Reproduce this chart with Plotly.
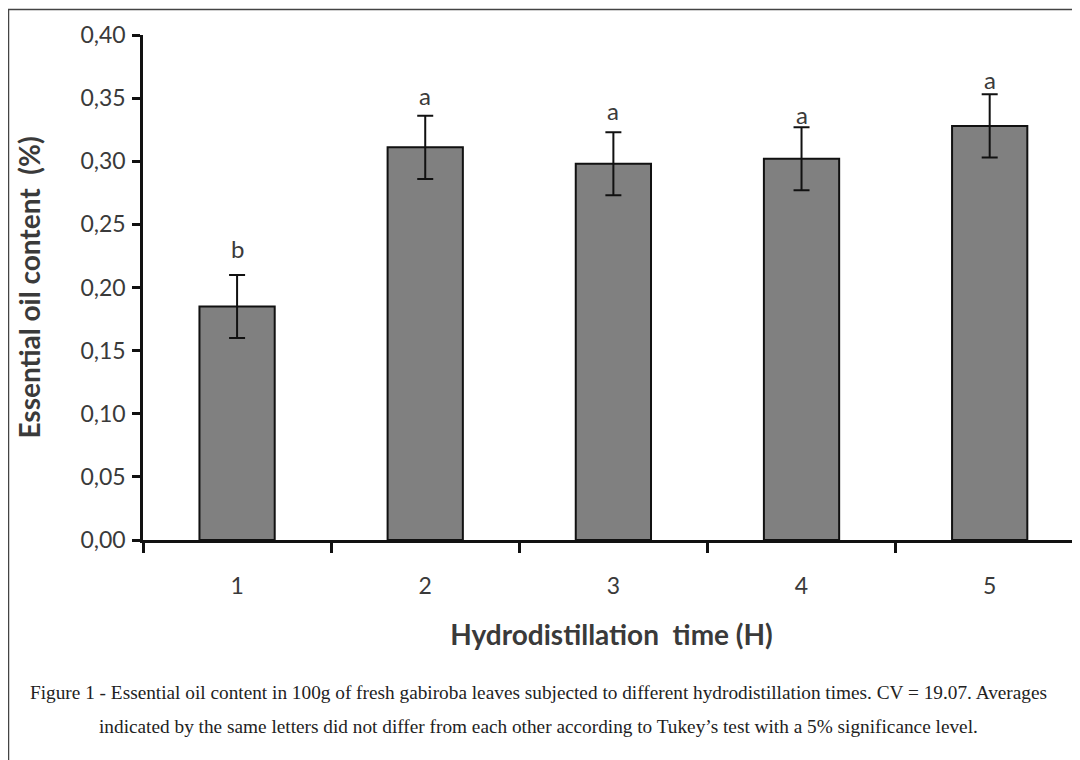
import plotly.graph_objects as go

# ---- data ----
categories = ["1", "2", "3", "4", "5"]
oil_content = [0.185, 0.311, 0.298, 0.302, 0.328]
error_sd = [0.025, 0.025, 0.025, 0.025, 0.025]
letters = ["b", "a", "a", "a", "a"]
y_ticks = [0.00, 0.05, 0.10, 0.15, 0.20, 0.25, 0.30, 0.35, 0.40]
y_tick_text = ["0,00", "0,05", "0,10", "0,15", "0,20", "0,25", "0,30", "0,35", "0,40"]
caption_1 = ("Figure 1 - Essential oil content in 100g of fresh gabiroba leaves subjected to different "
             "hydrodistillation times. CV = 19.07. Averages")
caption_2 = ("indicated by the same letters did not differ from each other according to Tukey\u2019s test "
             "with a 5% significance level.")

# ---- layout constants (figure pixels; page body adds an 8px offset) ----
OFF = 8
W, H = 1072, 752
ML, MR, MT, MB = 135, 0, 27, 220
PW, PH = W - ML - MR, H - MT - MB
letter_shift = [10, 4, 5, -4, -2]   # px above error-bar caps


def px_x(sx):   # screen x -> paper x
    return (sx - OFF - ML) / PW


def px_y(sy):   # screen y -> paper y
    return (H - MB - (sy - OFF)) / PH


SANS = "Lato"
TXT = "#3a3a3a"

fig = go.Figure()
fig.add_trace(go.Bar(
    x=categories, y=oil_content, width=0.4,
    marker=dict(color="#808080", line=dict(color="#111111", width=2)),
    error_y=dict(type="data", array=error_sd, visible=True,
                 color="#111111", thickness=2, width=8),
    showlegend=False,
))

for i, (v, e, l, s) in enumerate(zip(oil_content, error_sd, letters, letter_shift)):
    fig.add_annotation(x=i, y=v + e, text=l, showarrow=False, yanchor="bottom",
                       yshift=s, font=dict(family=SANS, size=24, color=TXT))

fig.add_annotation(xref="paper", yref="paper", x=px_x(538), y=px_y(692), text=caption_1,
                   showarrow=False, xanchor="center", yanchor="middle",
                   font=dict(family="Liberation Serif", size=19.3, color="#222222"))
fig.add_annotation(xref="paper", yref="paper", x=px_x(538), y=px_y(727), text=caption_2,
                   showarrow=False, xanchor="center", yanchor="middle",
                   font=dict(family="Liberation Serif", size=19.3, color="#222222"))

# outer frame
fig.add_shape(type="rect", xref="paper", yref="paper",
              x0=px_x(8.5), y0=px_y(820), x1=px_x(1120), y1=px_y(9.5),
              line=dict(color="#444444", width=1.5), fillcolor="rgba(0,0,0,0)", layer="below")

fig.update_layout(
    width=W, height=H,
    margin=dict(l=ML, r=MR, t=MT, b=MB, pad=0),
    paper_bgcolor="white", plot_bgcolor="white",
    xaxis=dict(type="category", range=[-0.5, 4.48],
               showline=True, linecolor="#111111", linewidth=2.5,
               ticks="outside", ticklen=10, tickwidth=2.5, tickcolor="#111111",
               tickson="boundaries", showgrid=False, zeroline=False,
               tickfont=dict(family=SANS, size=23, color=TXT),
               ticklabelstandoff=24,
               title=dict(text="<b>Hydrodistillation  time (H)</b>", standoff=28,
                          font=dict(family=SANS, size=28, color=TXT))),
    yaxis=dict(range=[0, 0.40], tickvals=y_ticks, ticktext=y_tick_text,
               showline=True, linecolor="#111111", linewidth=2.5,
               ticks="outside", ticklen=8, tickwidth=2.5, tickcolor="#111111",
               showgrid=False, zeroline=False,
               tickfont=dict(family=SANS, size=23, color=TXT),
               ticklabelstandoff=2,
               title=dict(text="<b>Essential oil content  (%)</b>", standoff=32,
                          font=dict(family=SANS, size=28, color=TXT))),
)

fig.write_html("out.html")
